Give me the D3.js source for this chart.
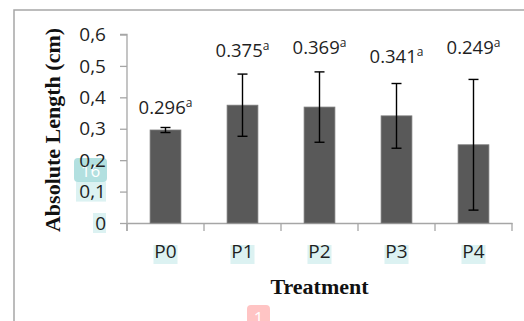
<!DOCTYPE html>
<html><head><meta charset="utf-8">
<script src="https://cdn.jsdelivr.net/npm/d3@7"></script>
<style>body{margin:0;background:#fff}svg{display:block}</style>
</head><body>
<script>
const categories = ["P0","P1","P2","P3","P4"];
const means = [0.296, 0.375, 0.369, 0.341, 0.249];
const errors = [0.008, 0.099, 0.112, 0.103, 0.208];
const letters = ["a","a","a","a","a"];
const labelAt = [0.347, 0.528, 0.537, 0.508, 0.537];
const yTicks = [0, 0.1, 0.2, 0.3, 0.4, 0.5, 0.6];
const yTickLabels = ["0","0,1","0,2","0,3","0,4","0,5","0,6"];

const W = 524, H = 321;
const svg = d3.select("body").append("svg").attr("width", W).attr("height", H);

// outer frame
svg.append("rect").attr("x", 14).attr("y", 10).attr("width", 700).attr("height", 500)
  .attr("fill", "none").attr("stroke", "#a6a6a6").attr("stroke-width", 1.5);

const x = d3.scaleBand().domain(categories).range([127, 512]).paddingInner(0.6).paddingOuter(0.3);
const y = d3.scaleLinear().domain([0, 0.6]).range([223, 34.5]);
const axisColor = "#a6a6a6";
const tickFont = "'Open Sans', sans-serif";

// highlight artifacts behind some labels
const hl = "#dcf2f2";
[[0.1, 30], [0, 13]].forEach(([v, w]) => {
  svg.append("rect").attr("x", 106 - w).attr("y", y(v) - 10).attr("width", w).attr("height", 20).attr("fill", hl);
});
categories.forEach(c => {
  svg.append("rect").attr("x", x(c) + x.bandwidth()/2 - 12).attr("y", 245).attr("width", 24).attr("height", 19).attr("fill", hl);
});

// annotation badge (behind tick labels)
const b1 = svg.append("g");
b1.append("rect").attr("x", 74).attr("y", 158).attr("width", 33).attr("height", 24).attr("rx", 4)
  .attr("fill", "#9fd8d8").attr("opacity", 0.8);
b1.append("text").attr("x", 90.5).attr("y", 177).attr("text-anchor", "middle").attr("font-family", tickFont)
  .attr("font-size", 17).attr("fill", "#fff").text("16");

// y axis
const yAxis = d3.axisLeft(y).tickValues(yTicks).tickSize(7).tickPadding(14)
  .tickFormat((d, i) => yTickLabels[i]);
const gy = svg.append("g").attr("transform", "translate(127,0)").call(yAxis);
gy.select(".domain").attr("stroke", axisColor).attr("stroke-width", 1.3).attr("d", `M-7,${y(0.6)}H0V${y(0)+8}`);
gy.selectAll(".tick line").attr("stroke", axisColor).attr("stroke-width", 1.3);
gy.selectAll(".tick text").attr("font-family", tickFont).attr("font-size", 19).attr("fill", "#1f1f1f");

// x axis
const xAxis = d3.axisBottom(x).tickSize(0).tickPadding(22);
const gx = svg.append("g").attr("transform", `translate(0,${y(0)})`).call(xAxis);
gx.select(".domain").attr("stroke", axisColor).attr("stroke-width", 1.3);
gx.selectAll(".tick text").attr("font-family", tickFont).attr("font-size", 19).attr("fill", "#1f1f1f");
const step = x.step();
const bounds = categories.map(c => x(c) - step * x.paddingInner() / 2).concat([x.range()[1]]);
gx.selectAll("line.bnd").data(bounds).enter().append("line").attr("class", "bnd")
  .attr("x1", d => d).attr("x2", d => d).attr("y1", 0).attr("y2", 8)
  .attr("stroke", axisColor).attr("stroke-width", 1.3);

// bars
svg.selectAll("rect.bar").data(categories).enter().append("rect").attr("class", "bar")
  .attr("x", c => x(c)).attr("width", x.bandwidth())
  .attr("y", (c, i) => y(means[i])).attr("height", (c, i) => y(0) - y(means[i]))
  .attr("fill", "#595959").attr("stroke", "#7a7a7a").attr("stroke-width", 0.8);

// error bars
const eb = svg.append("g").attr("stroke", "#000").attr("stroke-width", 1.4);
categories.forEach((c, i) => {
  const cx = x(c) + x.bandwidth() / 2;
  const t = y(means[i] + errors[i]), b = y(means[i] - errors[i]);
  eb.append("line").attr("x1", cx).attr("x2", cx).attr("y1", t).attr("y2", b);
  eb.append("line").attr("x1", cx - 5).attr("x2", cx + 5).attr("y1", t).attr("y2", t);
  eb.append("line").attr("x1", cx - 5).attr("x2", cx + 5).attr("y1", b).attr("y2", b);
});

// value labels
categories.forEach((c, i) => {
  const t = svg.append("text").attr("x", x(c) + x.bandwidth() / 2).attr("y", y(labelAt[i]))
    .attr("text-anchor", "middle").attr("font-family", tickFont).attr("font-size", 18.5).attr("fill", "#1f1f1f");
  t.append("tspan").text(means[i].toFixed(3));
  t.append("tspan").attr("font-size", 12).attr("dy", -7).text(letters[i]);
});

// axis titles
svg.append("text").attr("x", (127 + 512) / 2).attr("y", 294).attr("text-anchor", "middle")
  .attr("font-family", "'Liberation Serif', 'Times New Roman', serif").attr("font-weight", "bold")
  .attr("font-size", 22).attr("fill", "#111").text("Treatment");
svg.append("text").attr("transform", "translate(60,130) rotate(-90)").attr("text-anchor", "middle")
  .attr("font-family", "'Liberation Serif', 'Times New Roman', serif").attr("font-weight", "bold")
  .attr("font-size", 22).attr("fill", "#111").text("Absolute Length (cm)");

// bottom annotation badge
const b2 = svg.append("g");
b2.append("rect").attr("x", 247).attr("y", 305).attr("width", 23).attr("height", 22).attr("rx", 4)
  .attr("fill", "#ffc4c4");
b2.append("text").attr("x", 258.5).attr("y", 324).attr("text-anchor", "middle").attr("font-family", tickFont)
  .attr("font-size", 17).attr("fill", "#fff").text("1");
</script>
</body></html>
